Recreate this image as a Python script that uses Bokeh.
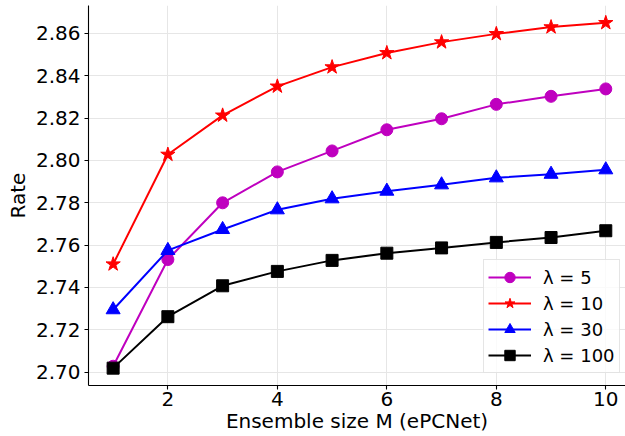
from bokeh.plotting import figure
from bokeh.models import Range1d, FixedTicker, NumeralTickFormatter, Legend, LegendItem
from bokeh.embed import file_html
from bokeh.resources import INLINE

M = [1, 2, 3, 4, 5, 6, 7, 8, 9, 10]
lam5 = [2.7028, 2.7532, 2.7800, 2.7946, 2.8045, 2.8145, 2.8197, 2.8265, 2.8303, 2.8338]
lam10 = [2.7510, 2.8028, 2.8213, 2.8350, 2.8441, 2.8508, 2.8559, 2.8598, 2.8630, 2.8650]
lam30 = [2.7295, 2.7575, 2.7674, 2.7767, 2.7819, 2.7855, 2.7885, 2.7918, 2.7935, 2.7956]
lam100 = [2.7019, 2.7262, 2.7408, 2.7476, 2.7528, 2.7562, 2.7587, 2.7613, 2.7636, 2.7668]
labels = ["λ = 5", "λ = 10", "λ = 30", "λ = 100"]
x_ticks = [2, 4, 6, 8, 10]
y_ticks = [2.70, 2.72, 2.74, 2.76, 2.78, 2.80, 2.82, 2.84, 2.86]
x_title = "Ensemble size M (ePCNet)"
y_title = "Rate"

FONT = "DejaVu Sans"

p = figure(width=625, height=436, output_backend="svg", toolbar_location=None,
           x_range=Range1d(0.55, 10.36), y_range=Range1d(2.6937, 2.8732),
           min_border_left=88, min_border_right=0, min_border_top=5, min_border_bottom=51)
p.outline_line_color = None
p.background_fill_color = "white"

for ax in (p.xaxis[0], p.yaxis[0]):
    ax.axis_line_color = "black"
    ax.axis_line_width = 1.1
    ax.major_tick_line_color = "black"
    ax.major_tick_line_width = 1.1
    ax.major_tick_out = 4
    ax.major_tick_in = 0
    ax.minor_tick_line_color = None
    ax.major_label_text_font = FONT
    ax.major_label_text_font_size = "20px"
    ax.major_label_text_color = "black"
    ax.major_label_text_line_height = 1.0
    ax.axis_label_text_font = FONT
    ax.axis_label_text_font_size = "20px"
    ax.axis_label_text_font_style = "normal"
    ax.axis_label_text_color = "black"
    ax.axis_label_text_line_height = 1.0

p.xaxis.ticker = FixedTicker(ticks=x_ticks)
p.yaxis.ticker = FixedTicker(ticks=y_ticks)
p.yaxis.formatter = NumeralTickFormatter(format="0.00")
p.xaxis.axis_label = x_title
p.yaxis.axis_label = y_title
p.xaxis.major_label_standoff = 2
p.yaxis.major_label_standoff = 4
p.xaxis.axis_label_standoff = 0
p.yaxis.axis_label_standoff = 3

p.xgrid.grid_line_color = "#e6e6e6"
p.ygrid.grid_line_color = "#e6e6e6"
p.xgrid.grid_line_width = 1
p.ygrid.grid_line_width = 1

series = [
    (lam5, "#bf00bf", "circle", 12),
    (lam10, "#ff0000", "star", 15),
    (lam30, "#0000ff", "triangle", 14),
    (lam100, "#000000", "square", 12),
]
items = []
for (ys, col, mk, sz), lab in zip(series, labels):
    l = p.line(M, ys, line_color=col, line_width=2)
    s = p.scatter(M, ys, marker=mk, size=sz, fill_color=col, line_color=col)
    items.append(LegendItem(label=lab, renderers=[l, s]))

legend = Legend(items=items, location=(395, 12))
legend.label_text_font = FONT
legend.label_text_font_size = "18px"
legend.label_text_color = "black"
legend.glyph_width = 43
legend.glyph_height = 26
legend.label_height = 20
legend.label_standoff = 12
legend.spacing = 0
legend.padding = 4
legend.margin = 0
legend.border_line_color = "#cccccc"
legend.border_line_width = 1
legend.background_fill_alpha = 0.8
p.add_layout(legend)

open("out.html", "w").write(file_html(p, INLINE))
